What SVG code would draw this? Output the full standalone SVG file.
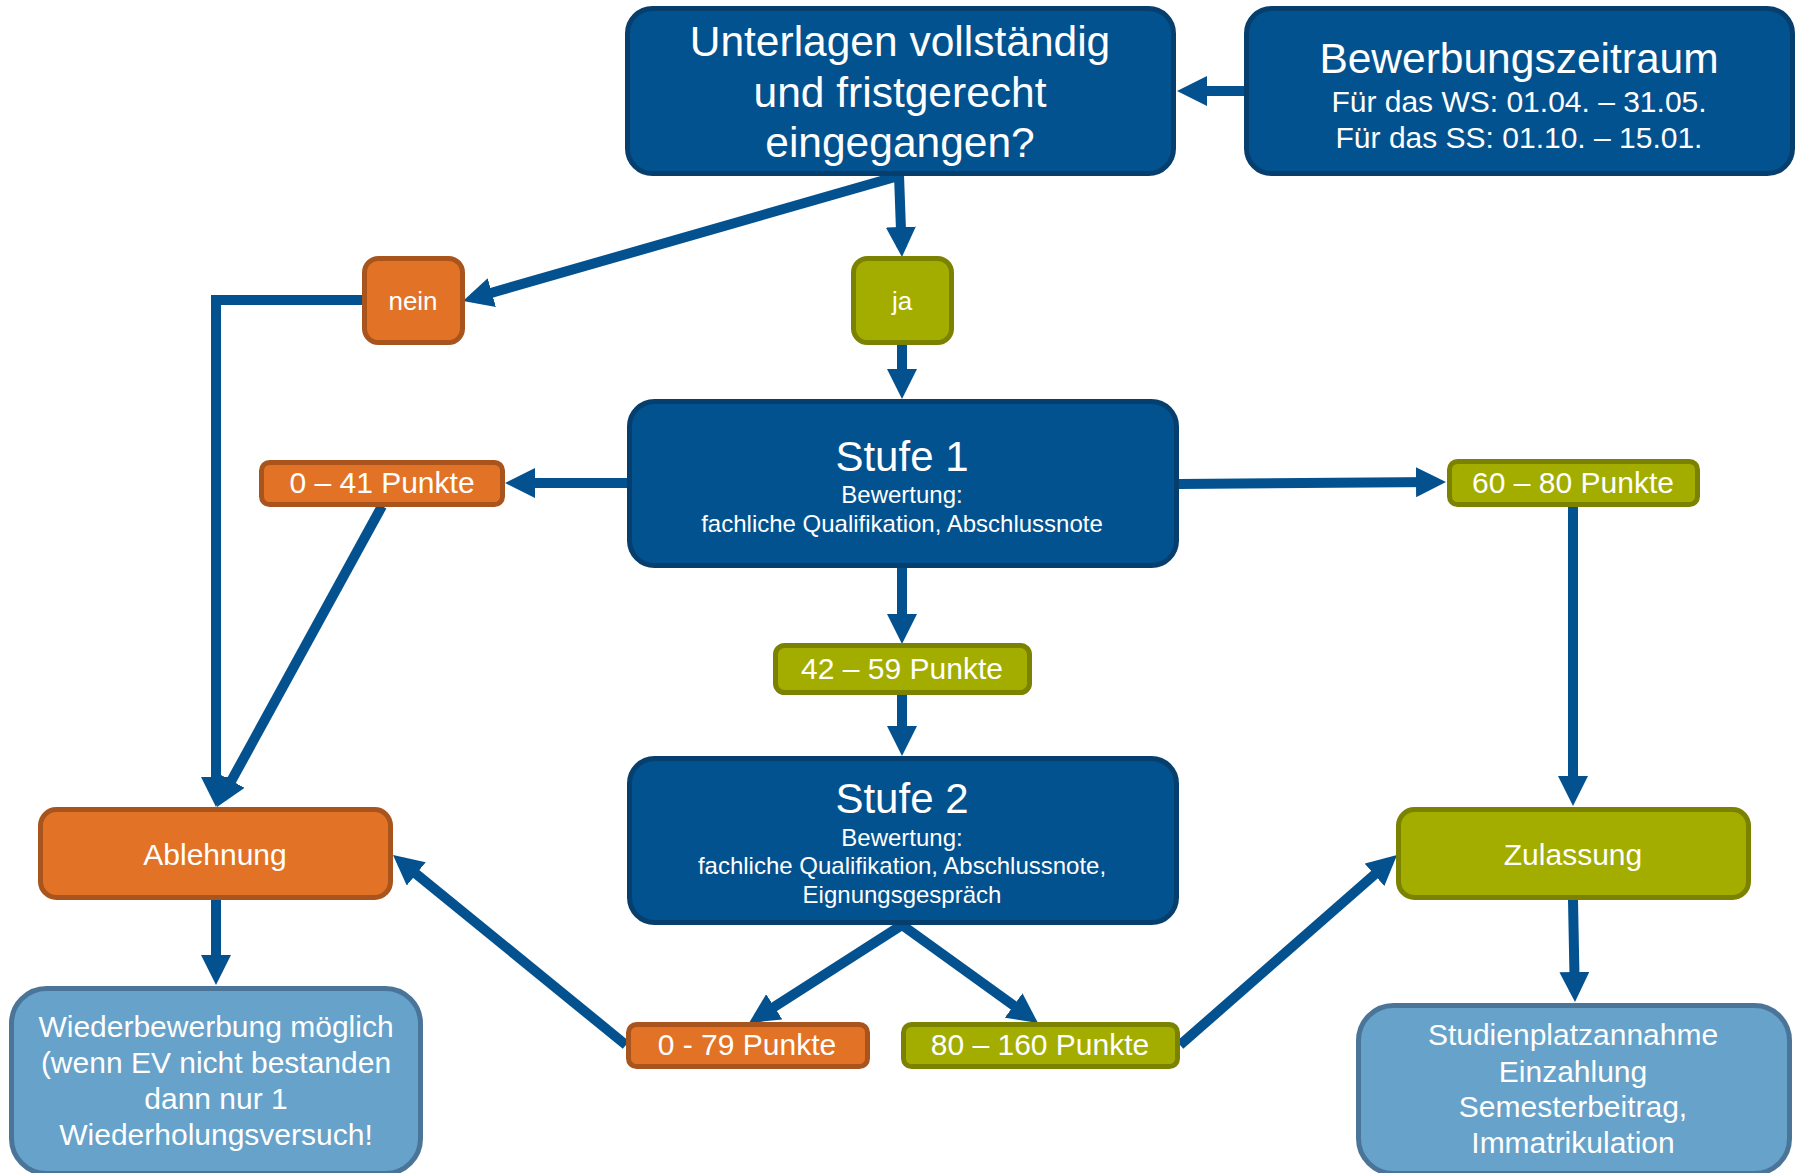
<svg xmlns="http://www.w3.org/2000/svg" width="1800" height="1173" viewBox="0 0 1800 1173">
<defs>
<style>
.dk{fill:#02528f;stroke:#063f6d;stroke-width:5}
.or{fill:#e27326;stroke:#a8541c;stroke-width:5}
.gr{fill:#a3ad00;stroke:#7b8200;stroke-width:5}
.lb{fill:#67a2ca;stroke:#4a7598;stroke-width:5}
text{font-family:"Liberation Sans",Arial,sans-serif;fill:#ffffff;text-anchor:middle}
.c{fill:none;stroke:#03528f;stroke-width:10;marker-end:url(#ah)}
</style>
<marker id="ah" viewBox="0 0 30 30" markerWidth="30" markerHeight="30" markerUnits="userSpaceOnUse" refX="20" refY="15" orient="auto">
<path d="M0,0 L30,15 L0,30 z" fill="#03528f"/>
</marker>
</defs>
<rect width="1800" height="1173" fill="#ffffff"/>
<g id="connectors">
<path class="c" d="M1244,91 L1187,91"/>
<path class="c" d="M895,177 L472.6,298.2"/>
<path class="c" d="M899,175 L901.6,247"/>
<path class="c" d="M902,344 L902,389"/>
<path class="c" d="M363,300 L216,300 L216,797"/>
<path class="c" d="M382,506 L221.8,798.2"/>
<path class="c" d="M627,483 L515,483"/>
<path class="c" d="M1179,484 L1436,482.1"/>
<path class="c" d="M902,568 L902,634"/>
<path class="c" d="M902,695 L902,746"/>
<path class="c" d="M1573,506 L1573,796"/>
<path class="c" d="M216,900 L216,975"/>
<path class="c" d="M1573,900 L1574.8,992"/>
<path class="c" d="M902,925 L757.4,1017.6"/>
<path class="c" d="M902,925 L1029.9,1017.2"/>
<path class="c" d="M626,1045 L400.75,861.3"/>
<path class="c" d="M1180,1045 L1389.5,861.6"/>
</g>
<g id="unterlagen">
<rect class="dk" x="627.5" y="8.5" width="546" height="165" rx="25"/>
<text x="900" y="56" font-size="42.5">Unterlagen vollständig</text>
<text x="900" y="107" font-size="42.5">und fristgerecht</text>
<text x="900" y="157" font-size="42.5">eingegangen?</text>
</g>
<g id="bewerbungszeitraum">
<rect class="dk" x="1246.5" y="8.5" width="546" height="165" rx="25"/>
<text x="1519" y="73" font-size="42.5">Bewerbungszeitraum</text>
<text x="1519" y="112" font-size="30">Für das WS: 01.04. – 31.05.</text>
<text x="1519" y="148" font-size="30">Für das SS: 01.10. – 15.01.</text>
</g>
<g id="nein">
<rect class="or" x="364.5" y="258.5" width="98" height="84" rx="14"/>
<text x="413" y="310" font-size="26">nein</text>
</g>
<g id="ja">
<rect class="gr" x="853.5" y="258.5" width="98" height="84" rx="14"/>
<text x="902" y="310" font-size="26">ja</text>
</g>
<g id="stufe1">
<rect class="dk" x="629.5" y="401.5" width="547" height="164" rx="25"/>
<text x="902" y="471" font-size="42">Stufe 1</text>
<text x="902" y="503" font-size="24">Bewertung:</text>
<text x="902" y="532" font-size="24">fachliche Qualifikation, Abschlussnote</text>
</g>
<g id="p0-41">
<rect class="or" x="261.5" y="462.5" width="241" height="42" rx="8"/>
<text x="382" y="493" font-size="30">0 – 41 Punkte</text>
</g>
<g id="p60-80">
<rect class="gr" x="1449.5" y="461.5" width="248" height="43" rx="8"/>
<text x="1573" y="493" font-size="30">60 – 80 Punkte</text>
</g>
<g id="p42-59">
<rect class="gr" x="775.5" y="645.5" width="254" height="47" rx="9"/>
<text x="902" y="679" font-size="30">42 – 59 Punkte</text>
</g>
<g id="stufe2">
<rect class="dk" x="629.5" y="758.5" width="547" height="164" rx="25"/>
<text x="902" y="813" font-size="42">Stufe 2</text>
<text x="902" y="846" font-size="24">Bewertung:</text>
<text x="902" y="874" font-size="24">fachliche Qualifikation, Abschlussnote,</text>
<text x="902" y="903" font-size="24">Eignungsgespräch</text>
</g>
<g id="ablehnung">
<rect class="or" x="40.5" y="809.5" width="350" height="88" rx="16"/>
<text x="215" y="865" font-size="30">Ablehnung</text>
</g>
<g id="zulassung">
<rect class="gr" x="1398.5" y="809.5" width="350" height="88" rx="16"/>
<text x="1573" y="865" font-size="30">Zulassung</text>
</g>
<g id="p0-79">
<rect class="or" x="628.5" y="1024.5" width="239" height="42" rx="8"/>
<text x="747" y="1055" font-size="30">0 - 79 Punkte</text>
</g>
<g id="p80-160">
<rect class="gr" x="903.5" y="1024.5" width="274" height="42" rx="8"/>
<text x="1040" y="1055" font-size="30">80 – 160 Punkte</text>
</g>
<g id="wiederbewerbung">
<rect class="lb" x="11.5" y="988.5" width="409" height="185" rx="35"/>
<text x="216" y="1037" font-size="30">Wiederbewerbung möglich</text>
<text x="216" y="1073" font-size="30">(wenn EV nicht bestanden</text>
<text x="216" y="1109" font-size="30">dann nur 1</text>
<text x="216" y="1145" font-size="30">Wiederholungsversuch!</text>
</g>
<g id="studienplatz">
<rect class="lb" x="1358.5" y="1005.5" width="431" height="168" rx="35"/>
<text x="1573" y="1045" font-size="30">Studienplatzannahme</text>
<text x="1573" y="1082" font-size="30">Einzahlung</text>
<text x="1573" y="1117" font-size="30">Semesterbeitrag,</text>
<text x="1573" y="1153" font-size="30">Immatrikulation</text>
</g>
</svg>
